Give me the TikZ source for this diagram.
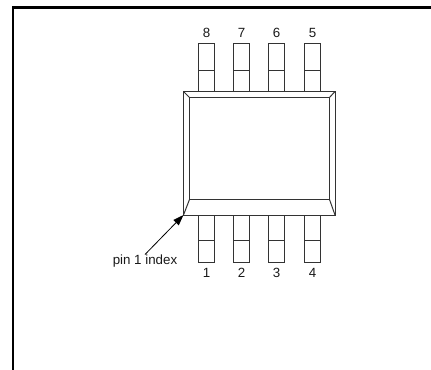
\documentclass[tikz,border=0pt]{standalone}
\usepackage{fontspec}
\setmainfont{Liberation Sans}
\usetikzlibrary{arrows.meta}
\tikzset{
  x=0.75pt,y=-0.75pt,
  frameline/.style={line width=1.95pt,black},
  pkg/.style={line width=0.75pt,draw=black!80},
  pinbox/.style={line width=0.75pt,draw=black!80},
  pinlabel/.style={font=\fontsize{10pt}{12pt}\selectfont,inner sep=0pt,text=black!90},
}
\begin{document}
\begin{tikzpicture}
\useasboundingbox (0,0) rectangle (431,370);
\coordinate (fbl) at (13,370);
\coordinate (ftl) at (13,7.7);
\coordinate (ftr) at (431,7.7);
\draw[frameline,line cap=rect] (fbl) -- (ftl) -- (ftr);
% package
\coordinate (po1) at (183.5,91.5);
\coordinate (po2) at (335,91.5);
\coordinate (po3) at (335,215);
\coordinate (po4) at (183.5,215);
\coordinate (pi1) at (189.5,97.5);
\coordinate (pi2) at (329.5,97.5);
\coordinate (pi3) at (329.5,199.5);
\coordinate (pi4) at (189.5,199.5);
\draw[pkg] (po1) -- (po2) -- (po3) -- (po4) -- cycle;
\draw[pkg] (pi1) -- (pi2) -- (pi3) -- (pi4) -- cycle;
\draw[pkg] (po1) -- (pi1) (po2) -- (pi2) (po3) -- (pi3) (po4) -- (pi4);
% pins
\foreach \x/\n/\m in {198.5/8/1,233.5/7/2,268.5/6/3,304.5/5/4}{
  \draw[pinbox] (\x,44) rectangle (\x+15.5,91.5);
  \draw[pinbox] (\x,70.5) -- (\x+15.5,70.5);
  \draw[pinbox] (\x,215) rectangle (\x+15.5,262.5);
  \draw[pinbox] (\x,240.5) -- (\x+15.5,240.5);
  \node[pinlabel] (t\n) at (\x+8,33) {\n};
  \node[pinlabel] (b\m) at (\x+8,273) {\m};
}
\node[pinlabel] (idx) at (145,261.5) {pin 1 index};
\coordinate (as) at (145,254.5);
\draw[line width=0.6pt,-{Triangle[length=8pt,width=5.5pt]}] (as) -- (po4);
\end{tikzpicture}
\end{document}
